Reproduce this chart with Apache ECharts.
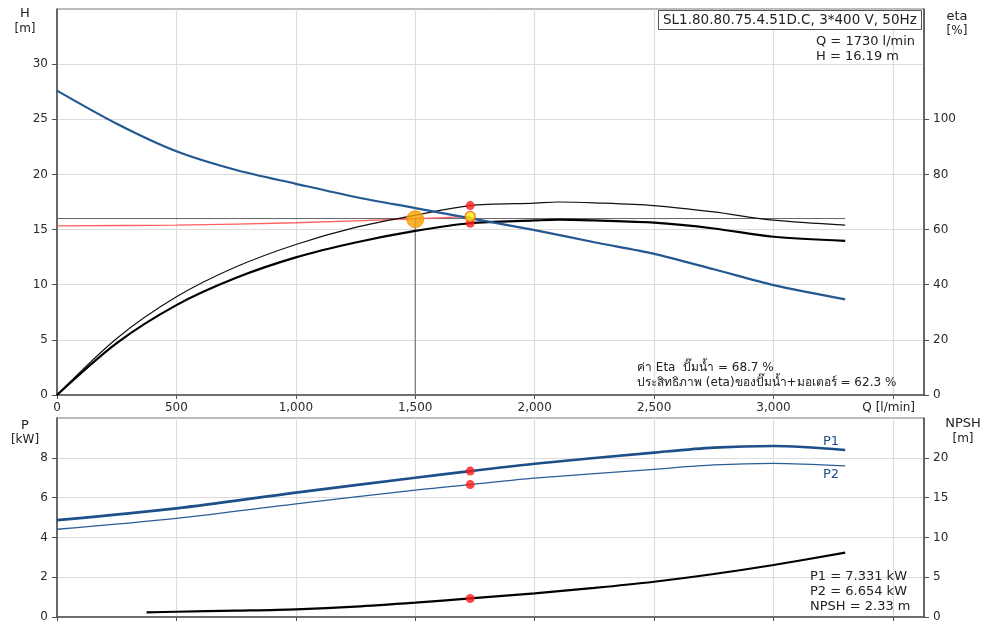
<!DOCTYPE html>
<html>
<head>
<meta charset="utf-8">
<script src="https://cdn.jsdelivr.net/npm/echarts@6/dist/echarts.min.js"></script>
<style>
html,body{margin:0;padding:0;background:#fff;}
#c{width:987px;height:623px;}
</style>
</head>
<body>
<div id="c"></div>
<script>
// ---- Data ----
// Pump head curve H [m]
const qHead = [0, 250, 500, 750, 1000, 1250, 1500, 1750, 2000, 2250, 2500, 2750, 3000, 3300];
const headH = [27.6, 24.6, 22.1, 20.4, 19.15, 17.95, 16.95, 15.95, 14.95, 13.85, 12.8, 11.4, 9.96, 8.67];

// Efficiency curves eta [%]
const qEta = [0, 250, 500, 750, 1000, 1250, 1500, 1730, 2000, 2100, 2250, 2500, 2750, 3000, 3300];
const etaPump = [0, 20.5, 35.6, 46.5, 54.6, 60.8, 65.2, 68.7, 69.6, 70.0, 69.7, 68.7, 66.4, 63.4, 61.6];
const etaTotal = [0, 18.8, 32.6, 42.5, 49.9, 55.3, 59.5, 62.3, 63.3, 63.6, 63.3, 62.5, 60.4, 57.4, 55.9];

// System curve (red) and reference lines
const qSystem = [0, 500, 1000, 1500, 1730];
const hSystem = [15.34, 15.41, 15.62, 15.98, 16.19];
const qRefLine = [0, 3300];
const hRefLine = [16.0, 16.0];
const qVertical = [1500, 1500];
const hVertical = [0, 15.94];

// Power curves P [kW]
const qPower = [0, 500, 1000, 1500, 1730, 2000, 2500, 2750, 3000, 3300];
const powerP1 = [4.87, 5.46, 6.25, 7.0, 7.331, 7.7, 8.26, 8.51, 8.59, 8.39];
const powerP2 = [4.41, 4.96, 5.68, 6.38, 6.654, 6.98, 7.42, 7.64, 7.72, 7.59];

// NPSH [m]
const qNpsh = [375, 500, 750, 1000, 1250, 1500, 1730, 2000, 2250, 2500, 2750, 3000, 3300];
const npshVals = [0.59, 0.66, 0.8, 0.97, 1.3, 1.8, 2.33, 2.98, 3.65, 4.43, 5.4, 6.53, 8.08];

// Axis tick values
const qTicks = [0, 500, 1000, 1500, 2000, 2500, 3000, 3500];
const hTicks = [0, 5, 10, 15, 20, 25, 30];
const etaTicks = [0, 20, 40, 60, 80, 100];
const pTicks = [0, 2, 4, 6, 8];
const npshTicks = [0, 5, 10, 15, 20];

// Duty points
const dutyQ = 1730;
const dutyH = 16.19;
const dutyEtaPump = 68.7;
const dutyEtaTotal = 62.3;
const dutyP1 = 7.331;
const dutyP2 = 6.654;
const dutyNpsh = 2.33;
const markQ = 1500;
const markH = 15.94;

// ---- Build chart ----
const zip = (xs, ys) => xs.map((x, i) => [x, ys[i]]);
const FONT = "'DejaVu Sans', Verdana, sans-serif";
const LBL = '#2a2a2a';
const AX = '#505050';
const GRIDC = '#dcdcdc';

const chart = echarts.init(document.getElementById('c'), null, {renderer: 'canvas'});

const fmtQ = v => (v > 3000 ? '' : v.toLocaleString('en-US'));

function yAxisCfg(gridIndex, max, interval, ticks, pos, split) {
  return {
    type: 'value', gridIndex, min: 0, max, interval, position: pos,
    axisLine: {show: true, onZero: false, lineStyle: {color: AX, width: 1.6}},
    axisTick: {show: true, length: 5, customValues: ticks, lineStyle: {color: AX}},
    axisLabel: {color: LBL, fontFamily: FONT, fontSize: 12, margin: 9, customValues: ticks},
    splitLine: {show: split, lineStyle: {color: GRIDC, width: 1.2}}
  };
}

const lineBase = {type: 'line', symbol: 'none', smooth: 0.3};

const option = {
  animation: false,
  backgroundColor: '#fff',
  grid: [
    {left: 57, right: 63, top: 9, height: 386, show: true, borderColor: '#777', borderWidth: 1},
    {left: 57, right: 63, top: 418, height: 199, show: true, borderColor: '#777', borderWidth: 1}
  ],
  xAxis: [
    {type: 'value', gridIndex: 0, min: 0, max: 3630, interval: 500,
      axisLine: {show: true, onZero: false, lineStyle: {color: AX, width: 1.6}},
      axisTick: {show: true, length: 4, customValues: qTicks, lineStyle: {color: AX}},
      axisLabel: {color: LBL, fontFamily: FONT, fontSize: 12, margin: 7, formatter: fmtQ, showMaxLabel: false},
      splitLine: {show: true, lineStyle: {color: GRIDC, width: 1.2}}},
    {type: 'value', gridIndex: 1, min: 0, max: 3630, interval: 500,
      axisLine: {show: true, onZero: false, lineStyle: {color: AX, width: 1.6}},
      axisTick: {show: true, length: 4, customValues: qTicks, lineStyle: {color: AX}},
      axisLabel: {show: false},
      splitLine: {show: true, lineStyle: {color: GRIDC, width: 1.2}}}
  ],
  yAxis: [
    yAxisCfg(0, 35, 5, hTicks, 'left', true),
    yAxisCfg(0, 140, 20, etaTicks, 'right', false),
    yAxisCfg(1, 10, 2, pTicks, 'left', true),
    yAxisCfg(1, 25, 5, npshTicks, 'right', false)
  ],
  series: [
    Object.assign({}, lineBase, {name: 'ref', xAxisIndex: 0, yAxisIndex: 0, data: zip(qRefLine, hRefLine),
      smooth: false, lineStyle: {color: '#666', width: 1}, z: 2}),
    Object.assign({}, lineBase, {name: 'vert', xAxisIndex: 0, yAxisIndex: 0, data: zip(qVertical, hVertical),
      smooth: false, lineStyle: {color: '#777', width: 1.2}, z: 2}),
    Object.assign({}, lineBase, {name: 'system', xAxisIndex: 0, yAxisIndex: 0, data: zip(qSystem, hSystem),
      lineStyle: {color: '#ff6060', width: 1.3}, z: 3}),
    Object.assign({}, lineBase, {name: 'etaPump', xAxisIndex: 0, yAxisIndex: 1, data: zip(qEta, etaPump),
      lineStyle: {color: '#111', width: 1.2}, z: 4}),
    Object.assign({}, lineBase, {name: 'etaTotal', xAxisIndex: 0, yAxisIndex: 1, data: zip(qEta, etaTotal),
      lineStyle: {color: '#000', width: 2.2}, z: 4}),
    Object.assign({}, lineBase, {name: 'H', xAxisIndex: 0, yAxisIndex: 0, data: zip(qHead, headH),
      lineStyle: {color: '#235891', width: 2.2}, z: 5}),
    {type: 'scatter', xAxisIndex: 0, yAxisIndex: 0, data: [[markQ, markH]],
      symbolSize: 17, itemStyle: {color: '#f8a000', borderColor: '#ff8c00', borderWidth: 1}, z: 10},
    {type: 'scatter', xAxisIndex: 0, yAxisIndex: 1, data: [[dutyQ, dutyEtaPump], [dutyQ, dutyEtaTotal]],
      symbolSize: 9, itemStyle: {color: '#ff1a1a'}, z: 10},
    {type: 'scatter', xAxisIndex: 0, yAxisIndex: 0, data: [[dutyQ, dutyH]],
      symbolSize: 10, itemStyle: {color: '#ffee00', borderColor: '#ff5a1a', borderWidth: 1.5}, z: 11},

    Object.assign({}, lineBase, {name: 'P1', xAxisIndex: 1, yAxisIndex: 2, data: zip(qPower, powerP1),
      lineStyle: {color: '#1d4f8a', width: 2.6}, z: 4}),
    Object.assign({}, lineBase, {name: 'P2', xAxisIndex: 1, yAxisIndex: 2, data: zip(qPower, powerP2),
      lineStyle: {color: '#2a5d96', width: 1.3}, z: 4}),
    Object.assign({}, lineBase, {name: 'NPSH', xAxisIndex: 1, yAxisIndex: 3, data: zip(qNpsh, npshVals),
      lineStyle: {color: '#000', width: 2.2}, z: 4}),
    {type: 'scatter', xAxisIndex: 1, yAxisIndex: 2, data: [[dutyQ, dutyP1], [dutyQ, dutyP2]],
      symbolSize: 9, itemStyle: {color: '#ff1a1a'}, z: 10},
    {type: 'scatter', xAxisIndex: 1, yAxisIndex: 3, data: [[dutyQ, dutyNpsh]],
      symbolSize: 9, itemStyle: {color: '#ff1a1a'}, z: 10}
  ],
  graphic: []
};

function txt(text, x, y, opt) {
  opt = opt || {};
  return {type: 'text', z: 100, x, y, style: {
    text, fill: opt.color || '#222', font: (opt.size || 13) + 'px ' + FONT,
    textAlign: opt.align || 'left', textVerticalAlign: 'middle'
  }};
}

option.graphic = [
  {type: 'rect', z: 99, shape: {x: 658.5, y: 10.5, width: 263, height: 19},
    style: {fill: '#fff', stroke: '#555', lineWidth: 1}},
  txt('SL1.80.80.75.4.51D.C, 3*400 V, 50Hz', 663, 20.5, {size: 13.5}),
  txt('Q = 1730 l/min', 816, 42),
  txt('H = 16.19 m', 816, 57),
  txt('H', 25, 14, {align: 'center'}),
  txt('[m]', 25, 29, {align: 'center', size: 12}),
  txt('eta', 957, 17, {align: 'center'}),
  txt('[%]', 957, 31, {align: 'center', size: 12}),
  txt('ค่า Eta  ปั๊มน้ำ = 68.7 %', 637, 368, {size: 12}),
  txt('ประสิทธิภาพ (eta)ของปั๊มน้ำ+มอเตอร์ = 62.3 %', 637, 383, {size: 12}),
  txt('Q [l/min]', 915, 408, {align: 'right', size: 12}),
  txt('P', 25, 426, {align: 'center'}),
  txt('[kW]', 25, 440, {align: 'center', size: 12}),
  txt('NPSH', 963, 424, {align: 'center'}),
  txt('[m]', 963, 439, {align: 'center', size: 12}),
  txt('P1', 823, 442, {color: '#1d4f8a'}),
  txt('P2', 823, 475, {color: '#1d4f8a'}),
  txt('P1 = 7.331 kW', 810, 577),
  txt('P2 = 6.654 kW', 810, 592),
  txt('NPSH = 2.33 m', 810, 607)
];

chart.setOption(option);
</script>
</body>
</html>
